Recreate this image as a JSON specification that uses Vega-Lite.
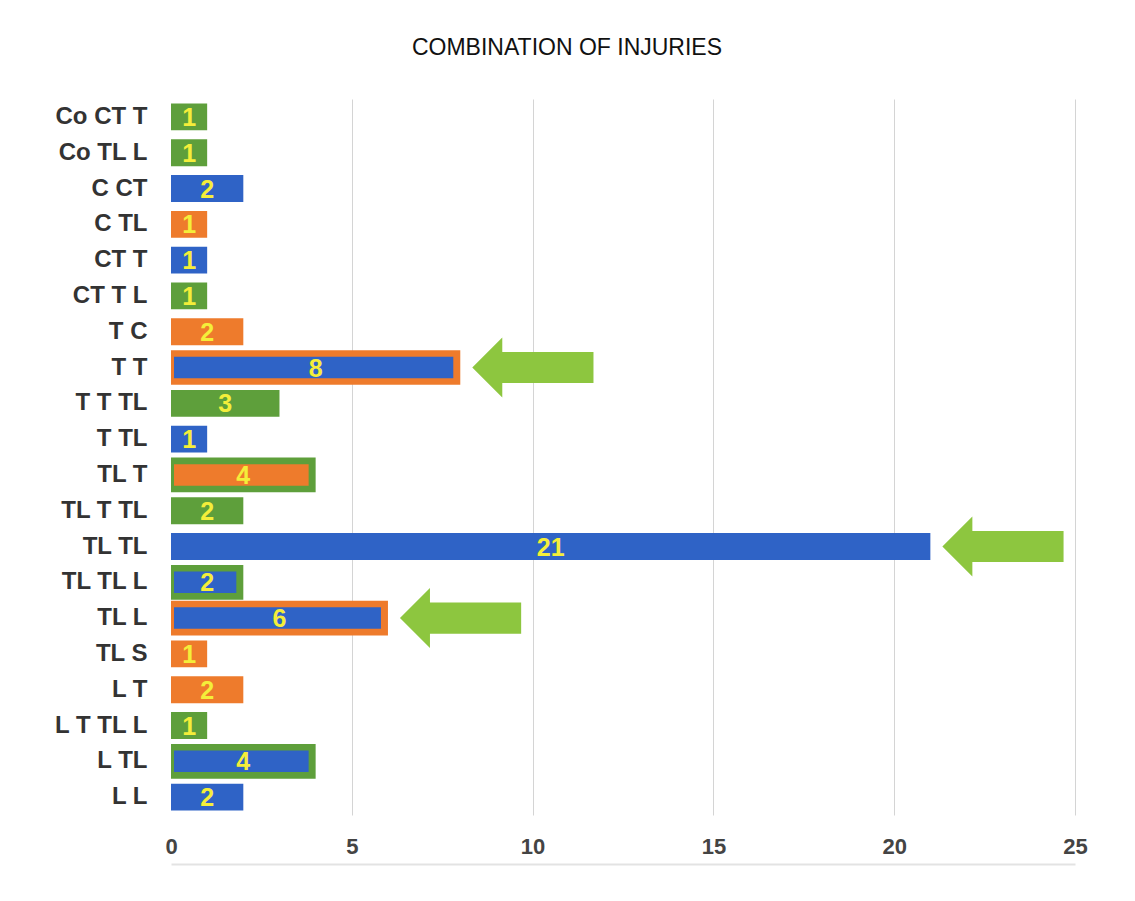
{
  "$schema": "https://vega.github.io/schema/vega-lite/v6.json",
  "width": 904,
  "height": 716,
  "autosize": {"type": "none"},
  "padding": {"left": 171, "top": 99, "right": 60, "bottom": 86},
  "background": "#ffffff",
  "config": {"view": {"stroke": null}, "font": "Liberation Sans"},
  "title": {
    "text": "COMBINATION OF INJURIES",
    "fontSize": 23,
    "fontWeight": "normal",
    "color": "#111111",
    "font": "Liberation Sans",
    "anchor": "middle",
    "baseline": "bottom",
    "dx": -56,
    "offset": 16
  },
  "data": {
    "values": [
      {"injury": "Co CT T", "count": 1, "group": "A", "outline": null, "arrow": false},
      {"injury": "Co TL L", "count": 1, "group": "A", "outline": null, "arrow": false},
      {"injury": "C CT", "count": 2, "group": "B", "outline": null, "arrow": false},
      {"injury": "C TL", "count": 1, "group": "C", "outline": null, "arrow": false},
      {"injury": "CT T", "count": 1, "group": "B", "outline": null, "arrow": false},
      {"injury": "CT T L", "count": 1, "group": "A", "outline": null, "arrow": false},
      {"injury": "T C", "count": 2, "group": "C", "outline": null, "arrow": false},
      {"injury": "T T", "count": 8, "group": "B", "outline": "C", "arrow": true},
      {"injury": "T T TL", "count": 3, "group": "A", "outline": null, "arrow": false},
      {"injury": "T TL", "count": 1, "group": "B", "outline": null, "arrow": false},
      {"injury": "TL T", "count": 4, "group": "C", "outline": "A", "arrow": false},
      {"injury": "TL T TL", "count": 2, "group": "A", "outline": null, "arrow": false},
      {"injury": "TL TL", "count": 21, "group": "B", "outline": null, "arrow": true},
      {"injury": "TL TL L", "count": 2, "group": "B", "outline": "A", "arrow": false},
      {"injury": "TL L", "count": 6, "group": "B", "outline": "C", "arrow": true},
      {"injury": "TL S", "count": 1, "group": "C", "outline": null, "arrow": false},
      {"injury": "L T", "count": 2, "group": "C", "outline": null, "arrow": false},
      {"injury": "L T TL L", "count": 1, "group": "A", "outline": null, "arrow": false},
      {"injury": "L TL", "count": 4, "group": "B", "outline": "A", "arrow": false},
      {"injury": "L L", "count": 2, "group": "B", "outline": null, "arrow": false}
    ]
  },
  "encoding": {
    "y": {
      "field": "injury",
      "type": "nominal",
      "sort": ["Co CT T", "Co TL L", "C CT", "C TL", "CT T", "CT T L", "T C", "T T", "T T TL", "T TL", "TL T", "TL T TL", "TL TL", "TL TL L", "TL L", "TL S", "L T", "L T TL L", "L TL", "L L"],
      "scale": {"paddingInner": 0, "paddingOuter": 0},
      "axis": {
        "title": null,
        "domain": false,
        "ticks": false,
        "labelPadding": 24,
        "labelFontSize": 24,
        "labelFontWeight": "bold",
        "labelColor": "#333333",
        "labelFont": "Liberation Sans"
      }
    }
  },
  "layer": [
    {
      "encoding": {
        "x": {
          "field": "count",
          "type": "quantitative",
          "stack": null,
          "scale": {"domain": [0, 25], "nice": false, "zero": true},
          "axis": {
            "title": null,
            "values": [0, 5, 10, 15, 20, 25],
            "domain": true,
            "domainColor": "#e3e3e3",
            "domainWidth": 2,
            "offset": 49,
            "ticks": false,
            "tickSize": 0,
            "labelPadding": -28,
            "labelFontSize": 22,
            "labelFontWeight": "bold",
            "labelColor": "#444444",
            "labelFont": "Liberation Sans",
            "labelFlush": false,
            "grid": true,
            "gridColor": "#d4d4d4",
            "gridWidth": 1,
            "gridOpacity": {"condition": {"test": "datum.value === 0", "value": 0}, "value": 1}
          }
        }
      },
      "layer": [
        {
          "transform": [{"filter": "datum.outline == null"}],
          "mark": {"type": "bar", "height": {"band": 0.75}},
          "encoding": {
            "color": {
              "field": "group",
              "type": "nominal",
              "scale": {"domain": ["A", "B", "C"], "range": ["#5e9f3b", "#2f63c6", "#ee7b2c"]},
              "legend": null
            }
          }
        },
        {
          "transform": [{"filter": "datum.outline != null"}],
          "mark": {"type": "bar", "height": {"band": 0.97}},
          "encoding": {
            "color": {"field": "outline", "type": "nominal", "legend": null}
          }
        },
        {
          "transform": [{"filter": "datum.outline != null"}],
          "mark": {"type": "bar", "height": {"band": 0.6}, "xOffset": -7, "x2Offset": 3},
          "encoding": {
            "x2": {"datum": 0},
            "color": {"field": "group", "type": "nominal", "legend": null}
          }
        },
        {
          "transform": [{"filter": "datum.arrow"}],
          "mark": {
            "type": "point",
            "shape": "M 0.2 0 L 0.7 -0.5 L 0.7 -0.26 L 2.22 -0.26 L 2.22 0.26 L 0.7 0.26 L 0.7 0.5 Z",
            "size": 14400,
            "filled": true,
            "fill": "#8dc63f",
            "opacity": 1,
            "strokeWidth": 0
          },
          "encoding": {}
        }
      ]
    },
    {
      "mark": {
        "type": "text",
        "align": "center",
        "baseline": "middle",
        "fontSize": 25,
        "fontWeight": "bold",
        "font": "Liberation Sans",
        "fill": "#f4ee3a",
        "dy": 1
      },
      "encoding": {
        "x": {
          "field": "count",
          "type": "quantitative",
          "scale": {"domain": [0, 50], "nice": false, "zero": true},
          "axis": null
        },
        "text": {"field": "count", "type": "quantitative"}
      }
    }
  ],
  "resolve": {"scale": {"x": "independent"}}
}
